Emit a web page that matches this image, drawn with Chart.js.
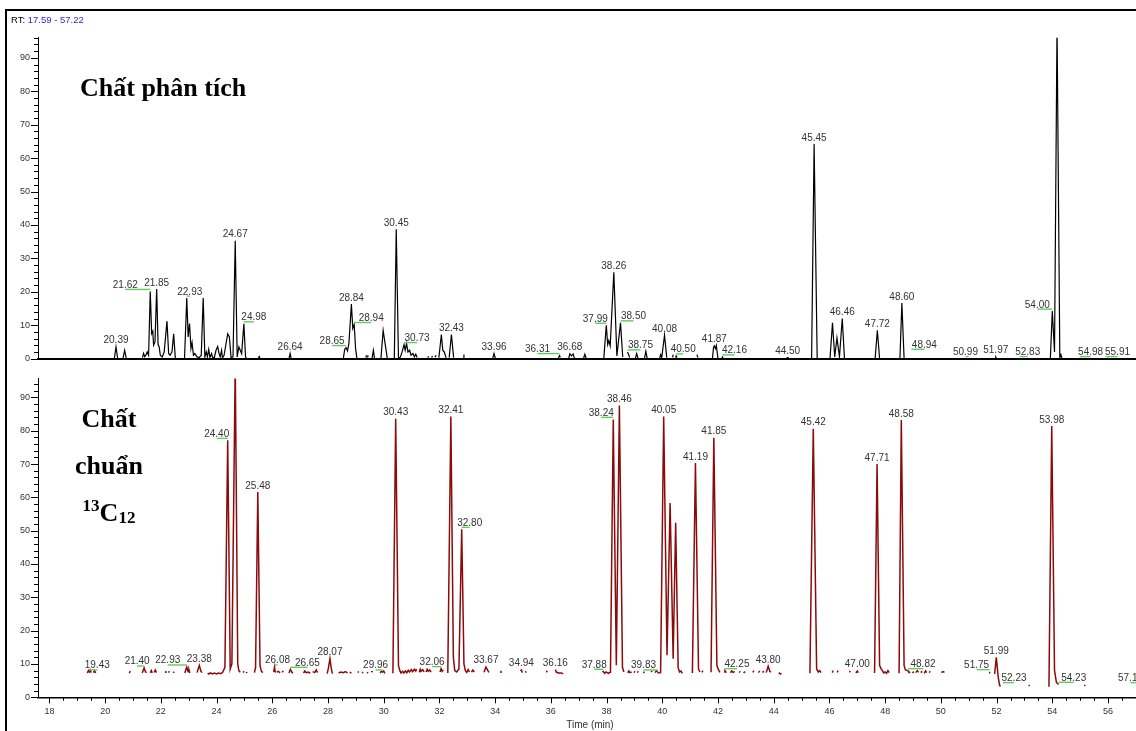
<!DOCTYPE html>
<html>
<head>
<meta charset="utf-8">
<script src="https://cdn.jsdelivr.net/npm/chart.js@4.4.1/dist/chart.umd.min.js"></script>
<style>
  html, body { margin: 0; padding: 0; background: #fff; overflow: hidden; width: 1136px; height: 731px; }
  #frame { position: absolute; left: 5px; top: 9px; width: 1200px; height: 800px;
           border-top: 2.5px solid #000; border-left: 2.5px solid #000; box-sizing: border-box; }
  canvas { position: absolute; left: 0; }
  #analyteCanvas { top: 0; }
  #standardCanvas { top: 365px; }
  .rt { position: absolute; left: 11px; top: 14px; font: 9.5px "Liberation Sans", Arial, sans-serif; color: #000; white-space: nowrap; }
  .rt span { color: #2b2bd0; }
  .big { position: absolute; font: bold 26px "Liberation Serif", "Times New Roman", serif; color: #000;
         line-height: 26px; white-space: nowrap; }
  .small { font-size: 17px; position: relative; }
</style>
</head>
<body>
<div id="frame"></div>
<canvas id="standardCanvas" width="1142" height="366"></canvas>
<canvas id="analyteCanvas" width="1142" height="372"></canvas>
<div class="rt">RT: <span>17.59 - 57.22</span></div>
<div class="big" style="left:80px;top:75px;">Chất phân tích</div>
<div class="big" style="left:49px;top:406px;width:120px;text-align:center;">Chất</div>
<div class="big" style="left:49px;top:453px;width:120px;text-align:center;">chuẩn</div>
<div class="big" style="left:49px;top:500px;width:120px;text-align:center;"><span class="small" style="top:-10px;">13</span>C<span class="small" style="top:2px;">12</span></div>
<script>
// ---------- data ----------
const timeTicks = [18, 20, 22, 24, 26, 28, 30, 32, 34, 36, 38, 40, 42, 44, 46, 48, 50, 52, 54, 56];
const abundanceTicks = [0, 10, 20, 30, 40, 50, 60, 70, 80, 90];

// Chất phân tích: trace segments of [time (min), relative abundance (%)]
const analyteTrace = [
  [[20.33,0],[20.39,3.5],[20.45,0]],
  [[20.64,0],[20.70,2.5],[20.76,0]],
  [[21.34,0.3],[21.38,1.6],[21.42,0.6],[21.47,1.2],[21.51,2.0],[21.56,1.0],[21.62,20.1],[21.67,7.5],[21.71,8.2],[21.74,4.0],[21.79,5.0],[21.85,20.8],[21.90,4.2],[21.94,3.5],[21.98,1.0],[22.05,0.5],[22.12,2.0],[22.22,11.2],[22.28,1.5],[22.33,1.0],[22.40,2.0],[22.46,7.4],[22.52,0]],
  [[22.85,0.2],[22.93,18.1],[22.98,6.5],[23.03,10.5],[23.08,3.0],[23.12,4.8],[23.17,1.0],[23.22,1.5],[23.30,0.5],[23.38,0.3],[23.45,1.0],[23.52,18.1],[23.58,0.5],[23.63,2.0],[23.67,0.5],[23.72,2.8],[23.76,0.3],[23.82,1.5],[23.86,0.3],[23.92,0.3],[23.98,2.5],[24.04,3.6],[24.09,1.5],[24.13,0.5],[24.18,2.5],[24.21,0.2],[24.27,1.0],[24.33,4.0],[24.40,7.4],[24.46,6.5],[24.52,0.3],[24.59,0.5],[24.67,35.3],[24.74,0.5],[24.80,3.5],[24.85,2.5],[24.90,1.5],[24.98,10.4],[25.04,0.5],[25.08,0]],
  [[25.50,0],[25.53,0.6],[25.56,0]],
  [[26.60,0],[26.64,1.5],[26.68,0]],
  [[28.55,0],[28.60,2.8],[28.65,3.3],[28.70,2.3],[28.75,4.5],[28.84,16.3],[28.89,9.0],[28.94,10.2],[28.99,3.0],[29.04,0]],
  [[29.36,0.3],[29.38,1.0]],
  [[29.42,0.3],[29.44,1.0]],
  [[29.58,0],[29.63,2.5],[29.67,0]],
  [[29.90,0],[29.98,8.4],[30.05,4.5],[30.13,0]],
  [[30.38,0],[30.45,38.7],[30.53,0],[30.60,0.5],[30.66,2.0],[30.73,4.2],[30.77,2.5],[30.82,4.5],[30.87,2.0],[30.93,2.5],[30.98,1.0],[31.05,1.5],[31.10,0.5],[31.15,1.3],[31.20,0.3]],
  [[31.58,0.3],[31.61,0.7]],
  [[31.72,0.3],[31.75,0.8]],
  [[31.84,0.4],[31.88,1.0]],
  [[31.98,0.3],[32.07,7.2],[32.12,2.5],[32.17,2.0],[32.24,0.2]],
  [[32.35,0.3],[32.43,7.2],[32.51,0.3]],
  [[32.87,0],[32.88,1.2]],
  [[33.91,0],[33.96,1.5],[34.01,0]],
  [[36.27,0.2],[36.31,0.9],[36.34,0.4]],
  [[36.64,0],[36.68,1.4],[36.74,0.8],[36.80,1.4],[36.85,0]],
  [[37.17,0],[37.22,1.3],[37.27,0]],
  [[37.90,0],[37.99,10.0],[38.04,4.2],[38.08,5.4],[38.13,3.8],[38.26,25.8],[38.37,0.8],[38.50,10.7],[38.58,0.5]],
  [[38.75,2.0],[38.79,1.2],[38.83,0.3]],
  [[39.03,0],[39.08,1.5],[39.13,0]],
  [[39.36,0],[39.41,2.2],[39.46,0]],
  [[39.90,0],[39.94,1.2],[39.98,0.3],[40.08,7.0],[40.16,0.3]],
  [[40.37,0.4],[40.39,1.2]],
  [[40.48,0.3],[40.50,0.8],[40.53,0.3]],
  [[41.24,1.2],[41.28,0.3]],
  [[41.80,0],[41.84,3.4],[41.87,3.8],[41.91,3.0],[41.94,3.9],[42.00,0]],
  [[42.14,0.2],[42.16,0.5],[42.18,0.2]],
  [[44.46,0.2],[44.50,0.3],[44.54,0.2]],
  [[45.36,0],[45.45,64.2],[45.56,0]],
  [[46.02,0],[46.11,10.7],[46.19,0.5],[46.27,6.2],[46.36,0.5],[46.46,12.0],[46.54,0]],
  [[47.64,0],[47.72,8.5],[47.80,0]],
  [[48.53,0],[48.60,16.6],[48.68,0]],
  [[48.94,2.2]],
  [[50.99,0]],
  [[51.95,0.2],[51.97,0.5],[51.99,0.2]],
  [[52.83,0]],
  [[53.93,0],[54.00,14.2],[54.08,2.0],[54.17,100],[54.27,0.3],[54.31,1.2],[54.35,0]],
  [[54.98,0]],
  [[55.91,0]]
];
const analytePeaks = [20.39, 21.62, 21.85, 22.93, 24.67, 24.98, 26.64, 28.65, 28.84, 28.94, 30.45, 30.73,
  32.43, 33.96, 36.31, 36.68, 37.99, 38.26, 38.50, 38.75, 40.08, 40.50, 41.87, 42.16, 44.50, 45.45,
  46.46, 47.72, 48.60, 48.94, 50.99, 51.97, 52.83, 54.00, 54.98, 55.91];

// Chất chuẩn 13C12: trace segments of [time (min), relative abundance (%)]
const standardTrace = [
  [[19.36,7.3],[19.40,8.0],[19.43,7.6],[19.46,8.2],[19.50,7.4]],
  [[19.58,7.4],[19.62,8.0],[19.66,7.3]],
  [[20.87,7.2],[20.90,7.9]],
  [[21.33,7.3],[21.40,8.8],[21.45,7.6],[21.49,7.4]],
  [[21.62,7.4],[21.66,8.0],[21.69,7.3]],
  [[21.76,7.5],[21.80,8.2],[21.84,7.4]],
  [[22.15,7.5],[22.18,7.9]],
  [[22.27,7.4],[22.31,7.8]],
  [[22.45,7.3],[22.48,7.7]],
  [[22.86,7.3],[22.93,9.1],[22.98,7.7],[23.01,8.2],[23.04,7.3]],
  [[23.30,7.4],[23.38,9.6],[23.44,7.8],[23.48,7.4]],
  [[23.68,7.3],[23.72,7.0],[23.78,7.3],[23.85,7.0],[23.92,7.3],[24.00,7.0],[24.07,7.3],[24.15,7.1],[24.22,7.5],[24.30,9.0],[24.40,77.1],[24.49,8.5],[24.55,10.0],[24.67,100],[24.76,10.0],[24.80,8.0],[24.85,7.5]],
  [[24.95,7.4],[24.99,7.8]],
  [[25.06,7.3],[25.10,7.6]],
  [[25.36,7.4],[25.40,9.0],[25.48,61.6],[25.56,9.5],[25.61,7.8],[25.66,7.4]],
  [[26.05,7.6],[26.08,9.1],[26.11,7.4]],
  [[26.16,7.6],[26.22,7.8],[26.28,7.3]],
  [[26.35,7.5],[26.40,7.9]],
  [[26.60,7.3],[26.65,8.4],[26.70,7.6],[26.74,7.2]],
  [[27.12,7.3],[27.17,7.9],[27.22,7.4],[27.30,7.6],[27.36,7.2]],
  [[27.45,7.7],[27.52,7.4],[27.58,8.2],[27.62,7.4]],
  [[27.97,7.1],[28.02,9.0],[28.07,11.6],[28.12,8.5],[28.16,7.1]],
  [[28.38,7.3],[28.46,7.6],[28.55,7.4],[28.62,7.7],[28.70,7.3]],
  [[28.78,7.5],[28.84,7.3]],
  [[29.07,7.4],[29.10,7.8]],
  [[29.22,7.3],[29.26,7.6]],
  [[29.40,7.2],[29.44,7.5]],
  [[29.56,7.5],[29.60,7.9]],
  [[29.87,7.3],[29.92,7.8],[29.96,7.6],[30.00,7.9],[30.04,7.2]],
  [[30.33,7.2],[30.43,83.6],[30.53,9.5],[30.58,8.0],[30.62,7.3],[30.68,7.8],[30.72,7.3],[30.78,7.9],[30.83,7.4],[30.88,8.1],[30.93,7.6],[30.99,8.3],[31.04,7.7],[31.10,8.4],[31.15,7.9],[31.18,8.5]],
  [[31.28,7.5],[31.31,8.4],[31.34,7.8],[31.40,8.3],[31.45,7.6]],
  [[31.52,7.6],[31.56,8.4],[31.60,7.8],[31.65,8.2],[31.70,7.6]],
  [[32.02,7.6],[32.06,8.6],[32.10,7.8],[32.14,8.2]],
  [[32.30,7.3],[32.41,84.3],[32.50,12.0],[32.55,8.0],[32.62,7.6],[32.70,8.5],[32.80,50.4],[32.88,10.0],[32.93,8.0],[32.98,7.5],[33.03,8.3],[33.08,7.6]],
  [[33.15,7.6],[33.20,8.2],[33.25,7.6]],
  [[33.60,7.5],[33.67,9.1],[33.74,8.0],[33.78,7.5]],
  [[34.18,7.5],[34.21,8.0]],
  [[34.90,8.0],[34.94,8.2],[34.98,7.4]],
  [[35.08,7.8],[35.12,7.4]],
  [[35.84,7.5],[35.87,8.0]],
  [[36.16,8.3],[36.20,7.5],[36.28,7.3],[36.38,7.3],[36.44,7.0]],
  [[37.85,7.6],[37.88,7.8],[37.93,7.2],[37.98,7.6],[38.06,7.2],[38.14,7.5],[38.24,83.4],[38.35,9.6],[38.46,87.6],[38.57,9.0],[38.62,7.6]],
  [[38.76,7.3],[38.80,7.9],[38.84,7.4],[38.90,7.6]],
  [[38.98,7.4],[39.02,7.8]],
  [[39.10,7.4],[39.14,7.8]],
  [[39.32,7.3],[39.36,7.7]],
  [[39.60,7.6],[39.64,8.0]],
  [[39.74,7.4],[39.79,8.0],[39.83,7.6],[39.87,7.3],[39.94,7.4],[40.05,84.3],[40.17,12.6],[40.28,58.3],[40.39,11.6],[40.48,52.4],[40.57,8.8],[40.62,7.6],[40.67,7.9],[40.72,7.2]],
  [[41.08,7.3],[41.19,70.3],[41.30,8.5],[41.35,7.6]],
  [[41.42,7.5],[41.46,8.0]],
  [[41.75,7.5],[41.85,77.9],[41.96,9.5],[42.02,8.2],[42.07,7.5]],
  [[42.22,7.6],[42.25,8.0],[42.30,7.4]],
  [[42.45,7.3],[42.49,7.9],[42.54,7.5],[42.60,7.7]],
  [[42.76,7.4],[42.80,7.8]],
  [[42.92,7.3],[42.97,7.7]],
  [[43.25,7.5],[43.29,8.0]],
  [[43.45,7.4],[43.50,7.9]],
  [[43.60,7.4],[43.64,7.9]],
  [[43.73,7.4],[43.80,9.3],[43.86,7.8],[43.90,7.5]],
  [[44.18,7.4],[44.24,7.0],[44.28,7.2]],
  [[45.30,7.2],[45.42,80.6],[45.54,8.5],[45.60,7.6],[45.65,8.0],[45.70,7.4]],
  [[46.10,7.4],[46.13,8.0]],
  [[46.28,7.5],[46.31,8.0]],
  [[46.72,7.5],[46.75,7.9]],
  [[46.95,7.3],[47.00,7.9],[47.04,7.4]],
  [[47.62,7.3],[47.71,70.0],[47.80,9.6],[47.85,8.6],[47.90,8.0],[47.95,7.3],[48.00,7.6],[48.05,7.2],[48.10,8.0],[48.14,7.4]],
  [[48.50,7.2],[48.58,83.2],[48.68,9.5],[48.73,8.2],[48.82,8.0],[48.86,7.4],[48.90,7.6]],
  [[48.98,7.3],[49.03,7.7]],
  [[49.10,7.4],[49.15,8.0],[49.20,7.5]],
  [[49.28,7.4],[49.33,7.8]],
  [[49.40,7.2],[49.45,7.9],[49.49,7.4]],
  [[49.58,7.4],[49.62,7.8]],
  [[50.02,7.4],[50.07,7.7],[50.13,7.5]],
  [[51.73,7.4],[51.75,7.7]],
  [[51.93,7.0],[51.99,12.0],[52.06,6.0],[52.11,3.5],[52.15,3.4]],
  [[52.23,3.8]],
  [[53.15,3.4],[53.19,3.7]],
  [[53.88,3.2],[53.98,81.4],[54.08,8.0],[54.15,4.4],[54.23,3.9]],
  [[55.15,3.4],[55.19,3.7]],
  [[57.13,3.8]]
];
const standardPeaks = [19.43, 21.40, 22.93, 23.38, 24.40, 25.48, 26.08, 26.65, 28.07, 29.96, 30.43, 32.06,
  32.41, 32.80, 33.67, 34.94, 36.16, 37.88, 38.24, 38.46, 39.83, 40.05, 41.19, 41.85, 42.25, 43.80,
  45.42, 47.00, 47.71, 48.58, 48.82, 51.75, 51.99, 52.23, 53.98, 54.23, 57.13];

// ---------- layout: horizontal nudges (px) of crowded peak labels ----------
const analyteLabelNudge = {
  '21.62': -25, '22.93': 3, '24.98': 10, '28.65': -14, '28.94': 17, '30.73': 13, '36.31': -22,
  '37.99': -11, '38.50': 13, '38.75': 13, '40.50': 7, '42.16': 12, '48.94': 13, '50.99': -3,
  '52.83': 8, '54.00': -15, '54.98': 11, '55.91': 12
};
const standardLabelNudge = {
  '19.43': 8, '21.40': -7, '22.93': -19, '24.40': -11, '26.08': 3, '26.65': 17, '29.96': -7,
  '32.06': -9, '32.80': 8, '37.88': -9, '38.24': -12, '39.83': -14, '42.25': 12, '48.82': 15,
  '51.75': -13, '52.23': 11, '54.23': 15, '57.13': -9
};

const FONT = '"Liberation Sans", Arial, Helvetica, sans-serif';

function toPoints(segments) {
  const pts = [];
  segments.forEach(seg => {
    seg.forEach(([t, v]) => pts.push({ x: t, y: v }));
    pts.push({ x: seg[seg.length - 1][0] + 0.001, y: null });
  });
  return pts;
}

// Retention-time labels (with leader underline when nudged) above each apex
const peakLabelPlugin = {
  id: 'peakLabels',
  afterDatasetsDraw(chart, args, opts) {
    const { ctx, scales: { x, y } } = chart;
    const flat = opts.trace.flat();
    ctx.save();
    ctx.font = '10px ' + FONT;
    ctx.fillStyle = '#333';
    ctx.textAlign = 'center';
    ctx.textBaseline = 'alphabetic';
    opts.peaks.forEach(rt => {
      const p = flat.find(q => Math.abs(q[0] - rt) < 1e-9);
      const level = p ? Math.min(p[1], y.max) : 0;
      const px = x.getPixelForValue(rt);
      const py = y.getPixelForValue(level);
      const key = rt.toFixed(2);
      const dx = opts.nudge[key] || 0;
      if (Math.abs(dx) >= 2) {
        ctx.strokeStyle = '#63c963';
        ctx.lineWidth = 1.4;
        ctx.beginPath();
        ctx.moveTo(px, py - 2);
        ctx.lineTo(px + dx, py - 2);
        ctx.stroke();
      }
      ctx.fillText(key, px + dx, py - 3.5);
    });
    ctx.restore();
  }
};

// Major / minor tick marks on the axes
const tickMarkPlugin = {
  id: 'tickMarks',
  afterDraw(chart, args, opts) {
    const { ctx, chartArea, scales: { x, y } } = chart;
    ctx.save();
    ctx.strokeStyle = '#000';
    ctx.lineWidth = 1;
    ctx.beginPath();
    for (let v = 0; v <= y.max; v += 2) {
      const py = Math.round(y.getPixelForValue(v)) + 0.5;
      const len = v % 10 === 0 ? 7 : 4;
      ctx.moveTo(chartArea.left - len, py);
      ctx.lineTo(chartArea.left, py);
    }
    if (opts.timeMarks) {
      for (let t = 18; t <= x.max; t += 0.5) {
        const px = Math.round(x.getPixelForValue(t)) + 0.5;
        const len = t % 2 === 0 ? 6 : 3.5;
        ctx.moveTo(px, chartArea.bottom);
        ctx.lineTo(px, chartArea.bottom + len);
      }
    }
    ctx.stroke();
    ctx.restore();
  }
};

function buildChart(canvasId, trace, peaks, nudge, cfg) {
  return new Chart(document.getElementById(canvasId), {
    type: 'line',
    data: {
      datasets: [{
        data: toPoints(trace),
        borderColor: cfg.color,
        borderWidth: cfg.lineWidth,
        pointRadius: 0,
        tension: 0,
        spanGaps: false
      }]
    },
    options: {
      responsive: false,
      animation: false,
      events: [],
      layout: { padding: { top: cfg.padTop, bottom: 0, left: 0, right: 0 } },
      plugins: {
        legend: { display: false },
        tooltip: { enabled: false },
        peakLabels: { trace, peaks, nudge },
        tickMarks: { timeMarks: cfg.showTime }
      },
      scales: {
        x: {
          type: 'linear',
          min: 17.59,
          max: 57.22,
          afterBuildTicks(s) { s.ticks = timeTicks.map(v => ({ value: v })); },
          afterFit(s) { s.height = cfg.xHeight; },
          ticks: { display: cfg.showTime, padding: 9, color: '#333', font: { size: 9, family: FONT } },
          grid: { display: false, drawTicks: false, tickLength: 0 },
          border: { display: true, color: '#000', width: cfg.baseWidth },
          title: {
            display: cfg.showTime, text: 'Time (min)', color: '#333',
            font: { size: 10, family: FONT }, padding: { top: 0, bottom: 0 }
          }
        },
        y: {
          type: 'linear',
          min: 0,
          max: cfg.yMax,
          afterBuildTicks(s) { s.ticks = abundanceTicks.map(v => ({ value: v })); },
          afterFit(s) { s.width = 38; },
          ticks: { padding: 8, color: '#333', font: { size: 9, family: FONT } },
          grid: { display: false, drawTicks: false, tickLength: 0 },
          border: { display: true, color: '#000', width: 1 }
        }
      }
    },
    plugins: [peakLabelPlugin, tickMarkPlugin]
  });
}

buildChart('analyteCanvas', analyteTrace, analytePeaks, analyteLabelNudge, {
  color: '#000', lineWidth: 1.2, padTop: 37.8, yMax: 96, xHeight: 11, showTime: false, baseWidth: 2
});
buildChart('standardCanvas', standardTrace, standardPeaks, standardLabelNudge, {
  color: '#8b0a0a', lineWidth: 1.5, padTop: 10, yMax: 95.7, xHeight: 33.7, showTime: true, baseWidth: 1.5
});
</script>
</body>
</html>
